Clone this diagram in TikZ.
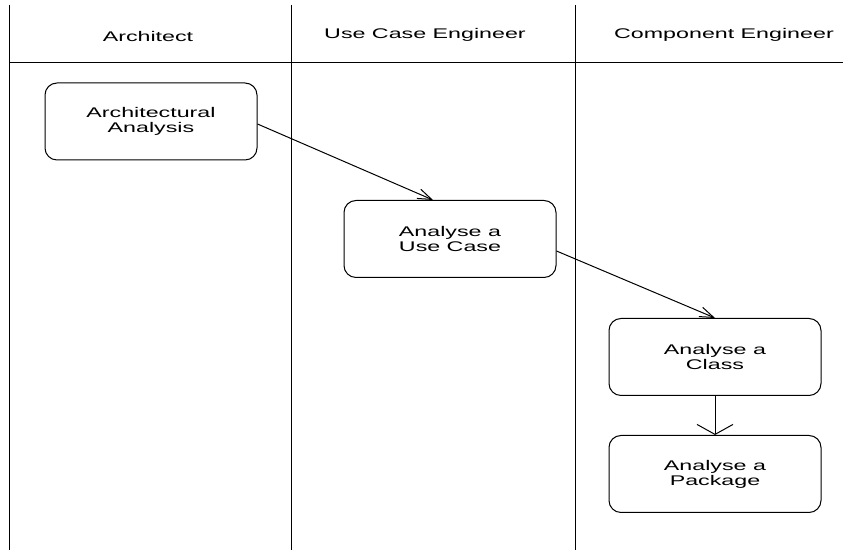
\documentclass[tikz,border=0pt]{standalone}
\usepackage{fontspec}
\setmainfont{Liberation Sans}[FakeStretch=1.66]
\usetikzlibrary{arrows.meta,calc}

\begin{document}
\begin{tikzpicture}[x=0.5pt,y=-0.5pt,line width=0.5pt,
    activity/.style={draw,rounded corners=6pt,minimum width=106pt,minimum height=38.5pt,
        align=center,inner sep=0pt},
    flow/.style={-{Straight Barb[length=7pt,width=5pt,line width=0.5pt]}},
    flowdown/.style={-{Straight Barb[length=5pt,width=18pt,line width=0.5pt]}}]
            \tikzstyle{every node}+=[font=\fontsize{7}{7.6}\selectfont]
            \useasboundingbox (0,0) rectangle (843,550);
            % swimlanes
            \draw (9,5) -- (9,550);
            \draw (291,5) -- (291,550);
            \draw (575,5) -- (575,550);
            \draw (9,63) -- (843,63);
            \node (lane1) at (148,37) {Architect};
            \node (lane2) at (425,35) {Use Case Engineer};
            \node (lane3) at (724,35) {Component Engineer};
            % activities
            \node [activity] (arch) at (151,121.5) {Architectural\\Analysis};
            \node [activity] (usecase) at (450,239) {Analyse a\\Use Case};
            \node [activity] (class) at (715,357) {Analyse a\\Class};
            \node [activity] (package) at (715,474) {Analyse a\\Package};
            % transitions
            \draw [flow] ($(arch.east)+(0,2.5)$) -- ($(usecase.north)+(-17,0)$);
            \draw [flow] ($(usecase.east)+(0,12)$) -- (class.north);
            \draw [flowdown] (class) -- (package);
        \end{tikzpicture}
\end{document}
